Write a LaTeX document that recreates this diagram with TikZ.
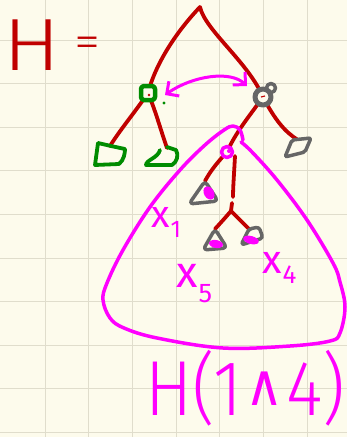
\RequirePackage{fix-cm}
\documentclass[tikz,border=0pt]{standalone}
\usepackage{fontspec}
\setmainfont{Fira Sans}
\newfontfamily\firalight{Fira Sans Light}
\newfontfamily\dv{DejaVu Sans}
\usetikzlibrary{arrows.meta}
\definecolor{bg}{RGB}{253,251,236}
\definecolor{gridc}{RGB}{224,221,204}
\definecolor{hred}{RGB}{192,0,0}
\definecolor{hmag}{RGB}{255,0,255}
\definecolor{hgreen}{RGB}{0,140,0}
\definecolor{hgrey}{RGB}{102,102,102}
\tikzset{
 edge/.style={hred, line width=3.8pt, line cap=round, line join=round},
 mag/.style={hmag, line width=3.5pt, line cap=round, line join=round},
 grn/.style={hgreen, line width=3.8pt, line cap=round, line join=round},
 gry/.style={hgrey, line width=3.5pt, line cap=round, line join=round},
 lab/.style={text=hmag, inner sep=0pt, anchor=base west},
 barb/.tip={Straight Barb[length=9pt,width=18pt]},
}
\begin{document}
\begin{tikzpicture}[x=1pt,y=-1pt]
\fill[bg] (0,0) rectangle (347,437);
\useasboundingbox (0,0) rectangle (347,437);
\foreach \k in {1,...,7} \draw[gridc, line width=1pt] ({1.5+43.65*\k},0) -- ({1.5+43.65*\k},437);
\foreach \k in {1,...,10} \draw[gridc, line width=1pt] (0,{-3.5+43.6*\k}) -- (347,{-3.5+43.6*\k});

% title
\node[text=hred, inner sep=0pt, anchor=base west, xscale=1.15] (title) at (3,70)
  {\firalight\fontsize{74}{74}\selectfont H\hspace{12pt}\raisebox{13pt}{\fontsize{46}{46}\selectfont =}};

% tree points
\coordinate (root) at (200,7);
\coordinate (gn) at (148,93);
\coordinate (gy) at (263,97);
\coordinate (gl) at (110,146);
\coordinate (gr) at (167,148);
\coordinate (gyl) at (298,140);
\coordinate (mn) at (227,152);
\coordinate (l1) at (205,181);
\coordinate (sp) at (231,211);
\coordinate (l2) at (215,229);
\coordinate (l3) at (249,229);

% red edges
\draw[edge] (root) .. controls (178,30) and (156,62) .. (gn);
\draw[edge] (root) .. controls (205,30) and (248,62) .. (gy);
\draw[edge] (gn) .. controls (135,112) and (120,130) .. (gl);
\draw[edge] (gn) .. controls (156,112) and (160,128) .. (gr);
\draw[edge] (gy) .. controls (275,120) and (285,132) .. (gyl);
\draw[edge] (gy) .. controls (248,118) and (236,132) .. (mn);
\draw[edge] (mn) .. controls (215,165) and (210,172) .. (l1);
\draw[edge] (235,156) .. controls (234,175) and (233,188) .. (233,197);
\draw[edge] (232,203) -- (sp);
\draw[edge] (sp) .. controls (225,218) .. (l2);
\draw[edge] (sp) .. controls (238,218) .. (l3);

% green node and leaves
\draw[grn, line width=4.5pt, fill=bg, rounded corners=3pt] (141,86) rectangle (155,100);
\fill[hred] (149,95) circle (1.3);
\fill[hgreen] (164,103) circle (1.6);
\draw[grn] (98,143) -- (95,165) -- (119,164) .. controls (124,160) and (125,153) .. (125,149) -- (111,146) -- (98,143);
\draw[grn] (160,150) .. controls (158,158) and (146,160) .. (146,165) -- (172,165) .. controls (177,162) and (179,155) .. (176,150) -- (167,147);

% grey node and leaves
\draw[gry, line width=5pt, fill=bg] (gy) circle (8);
\draw[gry] (271,88) circle (4.5);
\draw[hred, line width=1.2pt] (261,97) -- (265,96);
\draw[gry, rounded corners=2pt, fill=bg] (292,140) -- (311,138) -- (305,152) -- (285,157) -- cycle;
\draw[gry, rounded corners=4pt, fill=bg] (l1) -- (218,201) -- (189,204) -- cycle;
\fill[hmag, rotate around={-60:(209,193)}] (209,193) ellipse (7 and 5);
\draw[gry, rounded corners=4pt, fill=bg] (l2) -- (227,248) -- (203,250) -- cycle;
\fill[hmag, rotate around={-10:(216,244)}] (216,244) ellipse (7 and 4);
\draw[gry, rounded corners=3pt, fill=bg] (241,245) -- (l3) -- (259,227) -- (263,238) -- cycle;
\fill[hmag, rotate around={-15:(251,240)}] (251,240) ellipse (8 and 4);

% magenta node
\draw[mag, fill=bg] (mn) circle (5.5);
\fill[hmag] (229,151) circle (2);

% magenta arrow
\coordinate (a1) at (165,95);
\coordinate (a2) at (247,86);
\draw[mag, line width=3pt, barb-barb] (a1) .. controls (192,76) and (230,70) .. (a2);

% magenta loop
\draw[mag] plot[smooth, tension=0.6] coordinates {(243,140) (240,130) (233,126) (224,130) (205,145) (180,170) (150,207) (123,250) (107,283) (103,300) (110,318) (124,328) (157,338) (223,348) (290,346) (330,341) (340,333) (345,307) (340,282) (333,263) (307,220) (277,180) (252,152) (241,142)};

% labels
\node[lab] (x1) at (151,227) {\fontsize{38}{38}\selectfont x\kern1pt\raisebox{-10pt}{\fontsize{24}{24}\selectfont 1}};
\node[lab] (x5) at (176,287) {\fontsize{44}{44}\selectfont x\kern1pt\raisebox{-15pt}{\fontsize{27}{27}\selectfont 5}};
\node[lab] (x4) at (262,273) {\fontsize{40}{40}\selectfont x\kern1pt\raisebox{-10pt}{\fontsize{26}{26}\selectfont 4}};

\node[text=hmag, inner sep=0pt, anchor=base west, xscale=0.9] (sub) at (145,415)
  {\firalight\fontsize{78}{78}\selectfont H(1\kern3pt\raisebox{10pt}{\dv\fontsize{58}{58}\selectfont ∧}\kern3pt 4)};
\end{tikzpicture}
\end{document}
